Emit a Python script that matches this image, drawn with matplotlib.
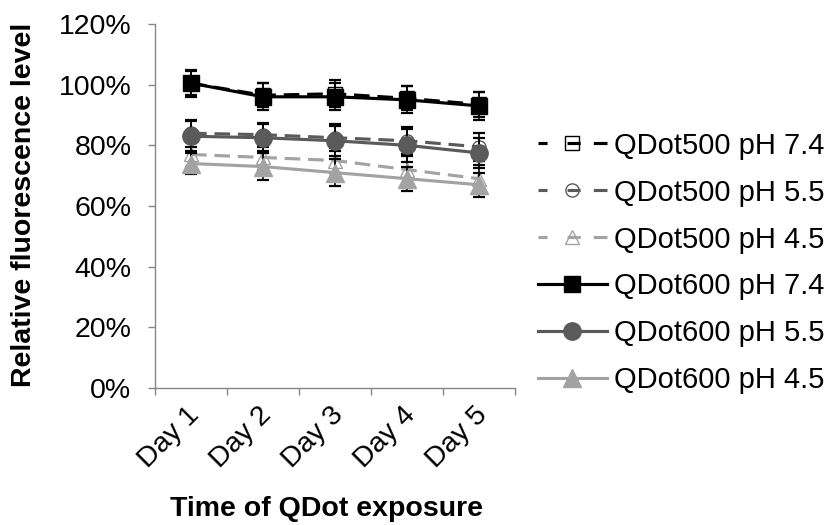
import matplotlib
matplotlib.use("Agg")
import matplotlib.pyplot as plt
import matplotlib.transforms as mtrans
from matplotlib.lines import Line2D
import numpy as np

# Data (% of day-1 fluorescence)
days = ["Day 1", "Day 2", "Day 3", "Day 4", "Day 5"]
labels = ["QDot500 pH 7.4", "QDot500 pH 5.5", "QDot500 pH 4.5",
          "QDot600 pH 7.4", "QDot600 pH 5.5", "QDot600 pH 4.5"]
qd500_74 = [100.5, 96.5, 97.0, 95.5, 93.5]
qd500_55 = [84.0, 83.5, 82.5, 81.5, 79.5]
qd500_45 = [77.0, 76.0, 75.0, 72.0, 69.0]
qd600_74 = [100.5, 96.0, 96.0, 95.0, 93.0]
qd600_55 = [83.0, 82.5, 81.5, 80.0, 77.5]
qd600_45 = [74.0, 73.0, 71.0, 69.0, 67.0]
err500_74 = [4.0, 4.0, 4.5, 4.0, 4.0]
err500_55 = [4.5, 4.0, 4.5, 4.5, 4.5]
err500_45 = [4.0, 4.0, 4.0, 4.5, 4.5]
err600_74 = [4.5, 4.5, 4.5, 4.5, 4.5]
err600_55 = [5.0, 4.5, 5.0, 5.5, 5.0]
err600_45 = [3.5, 4.5, 4.5, 4.0, 4.0]
yticks = [0, 20, 40, 60, 80, 100, 120]

plt.rcParams['font.family'] = ['Liberation Sans', 'DejaVu Sans']
fs = 20.5
black, dgray, lgray = "#000000", "#5a5a5a", "#a3a3a3"
axcol = "#868686"

fig = plt.figure(figsize=(8.33, 5.25), dpi=100)
ax = fig.add_axes([155 / 833, 1 - 388 / 525, 360 / 833, 364 / 525])
x = np.arange(len(days))

series = [
    (qd500_74, err500_74, black, "s", 9.5, "dash"),
    (qd500_55, err500_55, dgray, "o", 9.5, "dash"),
    (qd500_45, err500_45, lgray, "^", 9.5, "dash"),
    (qd600_74, err600_74, black, "s", 11.5, "solid"),
    (qd600_55, err600_55, dgray, "o", 12.5, "solid"),
    (qd600_45, err600_45, lgray, "^", 12.5, "solid"),
]

handles = []
for i, (vals, err, col, mk, ms, style) in enumerate(series):
    hollow = style == "dash"
    ls = (0, (5, 2.5)) if hollow else "-"
    ax.errorbar(x, vals, yerr=err, fmt="none", ecolor="black", elinewidth=1.2,
                capsize=4.5, capthick=1.6, zorder=2 + i)
    ax.plot(x, vals, color=col, lw=2.25, ls=ls, marker=mk, ms=ms,
            mfc="none" if hollow else col, mec=col, mew=1.0,
            zorder=2 + i)
    # legend proxies, Excel-like dash layout
    hls = (0, (2.9, 6.4, 4.2, 4.2, 4.8, 10)) if hollow else "-"
    handles.append(Line2D([], [], color=col, lw=2.25, ls=hls, marker=mk,
                          ms=9.5 if hollow else ms, mfc="none" if hollow else col,
                          mec=col, mew=1.0))

ax.set_xlim(-0.5, 4.5)
ax.set_ylim(0, 120)
ax.set_yticks(yticks)
ax.set_yticklabels(["%d%%" % v for v in yticks], fontsize=fs)
ax.set_xticks(x)
ax.set_xticklabels(days, fontsize=fs, rotation=45, ha="right", va="top",
                   rotation_mode="anchor")
ax.set_xticks(np.arange(-0.5, 5, 1), minor=True)
ax.tick_params(axis="x", which="major", length=0, pad=10)
ax.tick_params(axis="x", which="minor", length=5, width=1, color=axcol, direction="out")
ax.tick_params(axis="y", length=5, width=1, color=axcol, direction="out", pad=12)

offset = mtrans.ScaledTranslation(-5 / 100, 0, fig.dpi_scale_trans)
for lab in ax.get_xticklabels():
    lab.set_transform(lab.get_transform() + offset)

for s in ["top", "right"]:
    ax.spines[s].set_visible(False)
for s in ["left", "bottom"]:
    ax.spines[s].set_color(axcol)
    ax.spines[s].set_linewidth(1.0)

fig.text(24 / 833, 1 - 205 / 525, "Relative fluorescence level", rotation=90,
         ha="center", va="center", fontsize=fs, fontweight="bold")
fig.text(327 / 833, 1 - 509 / 525, "Time of QDot exposure",
         ha="center", va="center", fontsize=fs, fontweight="bold")

fig.legend(handles, labels, loc="center left", bbox_to_anchor=(538 / 833, 1 - 263 / 525),
           frameon=False, fontsize=21, handlelength=2.35, handletextpad=0.25,
           labelspacing=0.65, borderpad=0, borderaxespad=0)

fig.savefig("out.png", dpi=100)
